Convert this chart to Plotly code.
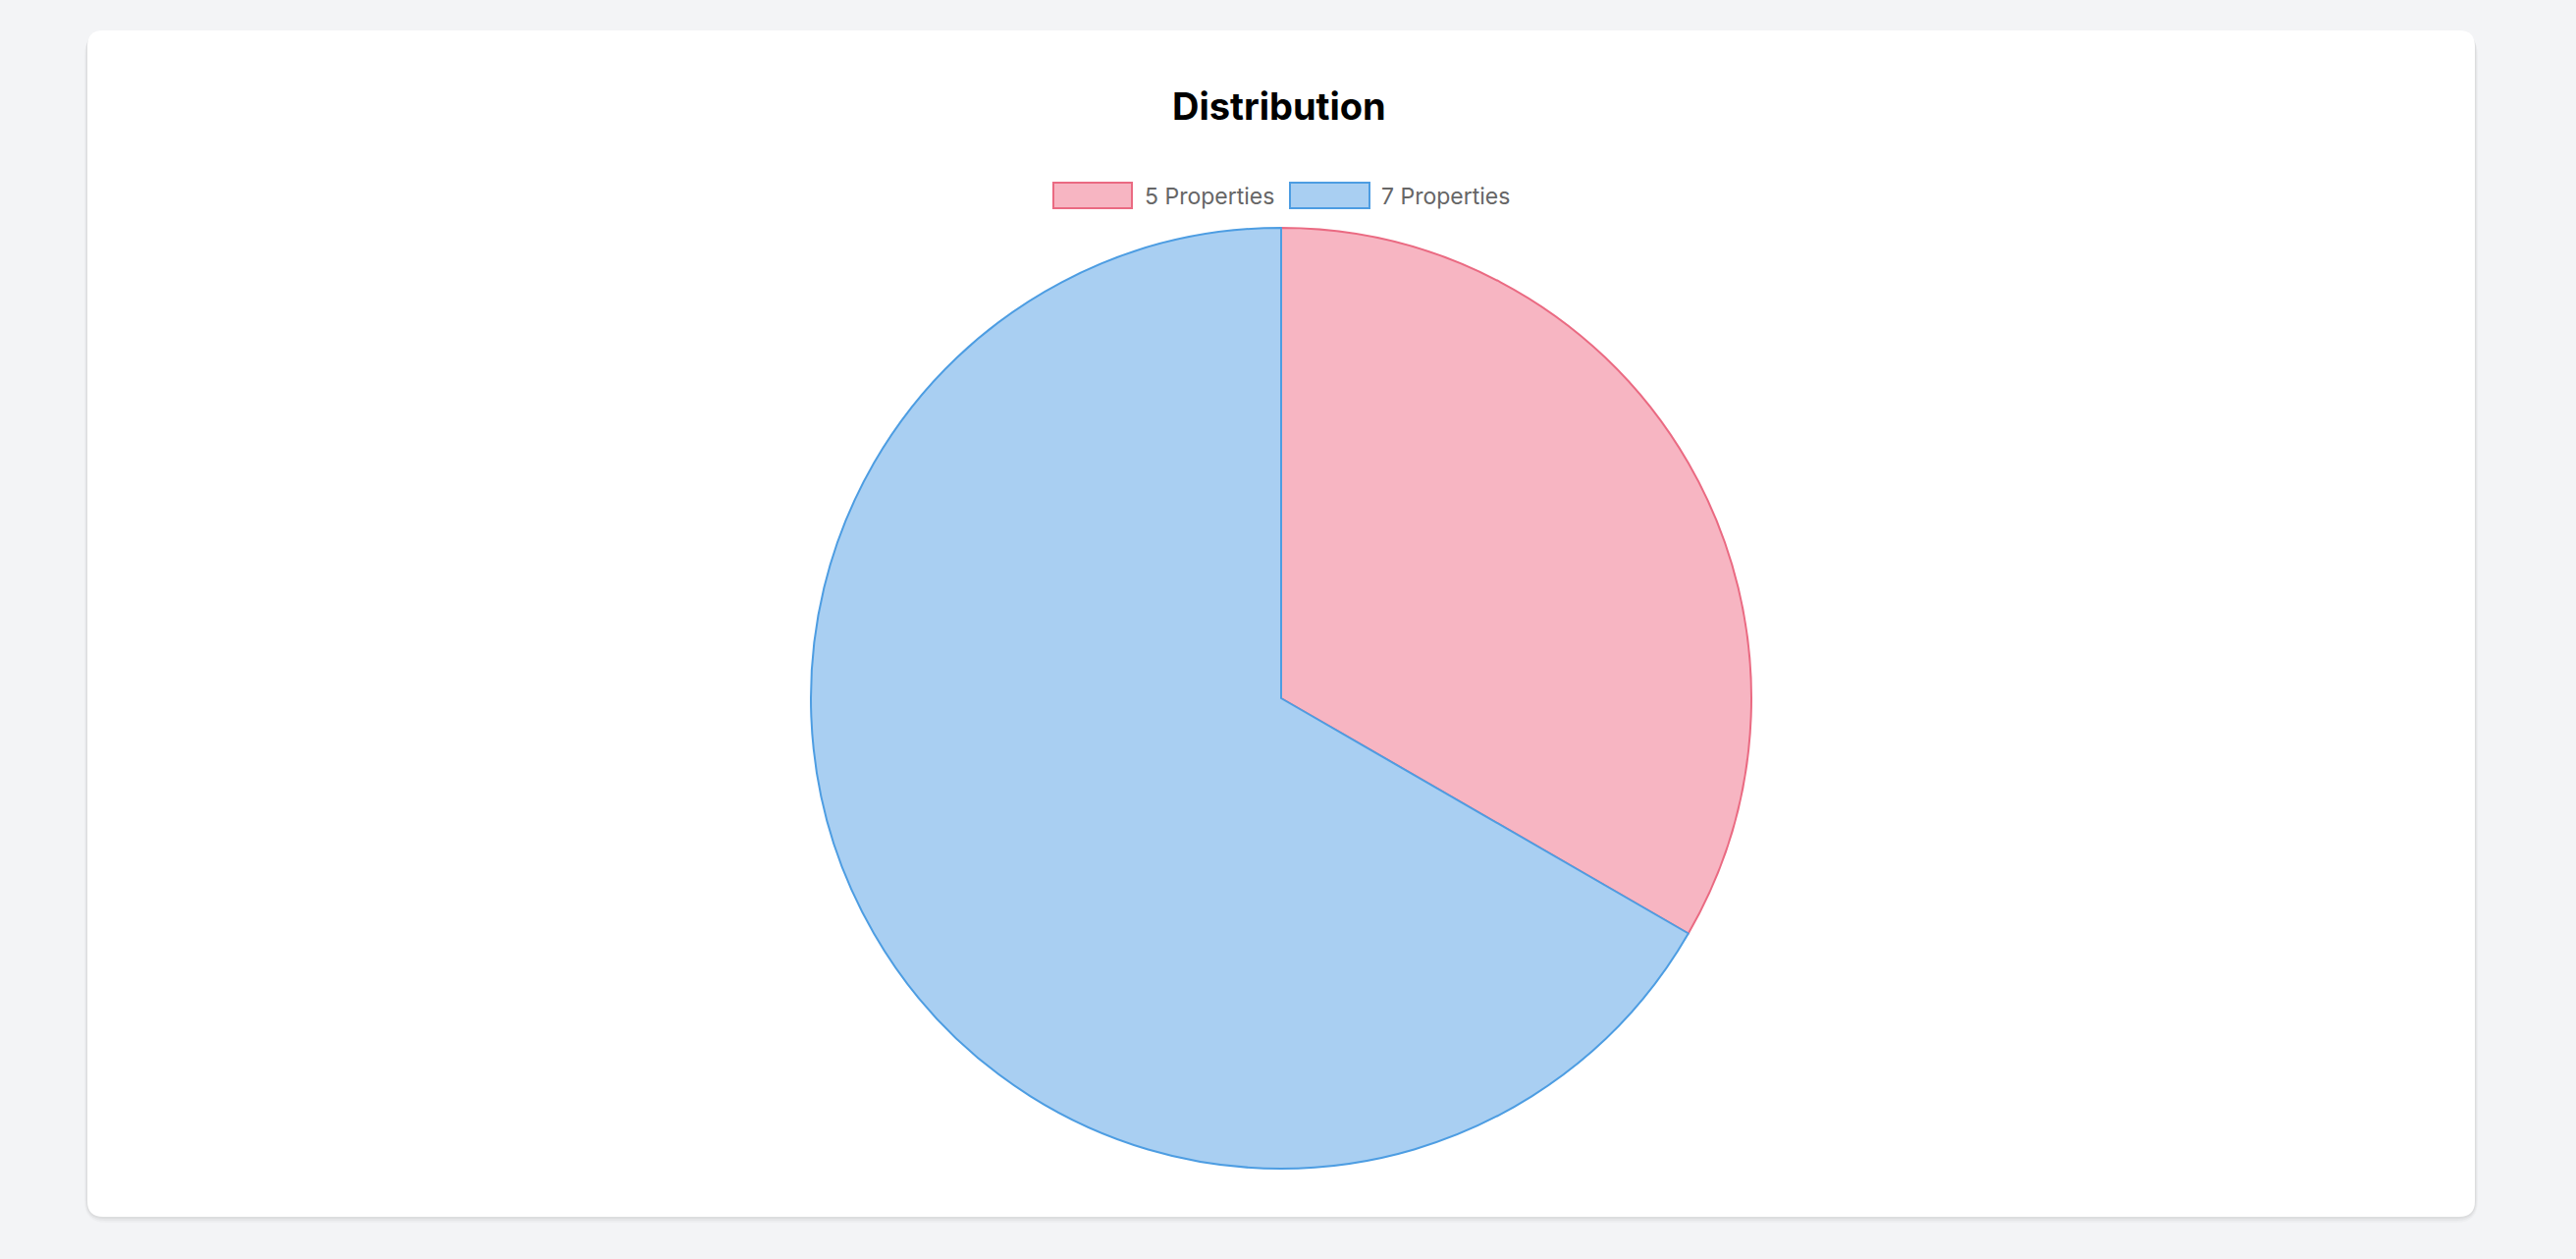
import plotly.graph_objects as go

# ---- data ----
labels = ["5 Properties", "7 Properties"]
values = [1, 2]
fill_colors = ["#F7B5C2", "#A9CFF2"]
border_colors = ["#EA6A82", "#4D9DE2"]
title_text = "Distribution"

W, H = 2624, 1282

def px(x):
    return x / W

def py(y):
    return 1 - y / H

def rounded_rect(x0, y0, x1, y1, r):
    pts = [
        f"M {px(x0 + r)},{py(y0)}",
        f"L {px(x1 - r)},{py(y0)}",
        f"Q {px(x1)},{py(y0)} {px(x1)},{py(y0 + r)}",
        f"L {px(x1)},{py(y1 - r)}",
        f"Q {px(x1)},{py(y1)} {px(x1 - r)},{py(y1)}",
        f"L {px(x0 + r)},{py(y1)}",
        f"Q {px(x0)},{py(y1)} {px(x0)},{py(y1 - r)}",
        f"L {px(x0)},{py(y0 + r)}",
        f"Q {px(x0)},{py(y0)} {px(x0 + r)},{py(y0)}",
        "Z",
    ]
    return " ".join(pts)

# card geometry
cx0, cy0, cx1, cy1, cr = 89, 31, 2521, 1239, 16

shapes = []
for off, alpha in [(6, 0.025), (4, 0.03), (2, 0.04)]:
    shapes.append(dict(
        type="path", xref="paper", yref="paper",
        path=rounded_rect(cx0 - off / 2, cy0 + off / 2, cx1 + off / 2, cy1 + off, cr + off),
        fillcolor=f"rgba(0,0,0,{alpha})", line=dict(width=0), layer="below",
    ))
shapes.append(dict(
    type="path", xref="paper", yref="paper",
    path=rounded_rect(cx0, cy0, cx1, cy1, cr),
    fillcolor="#ffffff", line=dict(width=0), layer="below",
))

# pie geometry
pcx, pcy, pr = 1305, 711, 479

fig = go.Figure(go.Pie(
    labels=labels,
    values=values,
    sort=False,
    direction="clockwise",
    rotation=0,
    marker=dict(colors=fill_colors, line=dict(color=border_colors, width=2)),
    textinfo="none",
    hoverinfo="label+value",
    showlegend=False,
    domain=dict(x=[px(pcx - pr), px(pcx + pr)], y=[py(pcy + pr), py(pcy - pr)]),
))

# custom legend (Chart.js-style boxes)
annotations = []
legend_boxes = [(1073, 1153), (1314, 1395)]
legend_text_x = [1164, 1405]
ly0, ly1 = 186, 212
for i, lab in enumerate(labels):
    bx0, bx1 = legend_boxes[i]
    shapes.append(dict(
        type="rect", xref="paper", yref="paper",
        x0=px(bx0), x1=px(bx1), y0=py(ly1), y1=py(ly0),
        fillcolor=fill_colors[i], line=dict(color=border_colors[i], width=2),
    ))
    annotations.append(dict(
        x=px(legend_text_x[i]), y=py(200), xref="paper", yref="paper",
        xanchor="left", yanchor="middle", showarrow=False, text=lab,
        font=dict(family="Inter, Liberation Sans, sans-serif", size=23, color="#666666"),
    ))

annotations.append(dict(
    x=px(1303), y=py(108), xref="paper", yref="paper",
    xanchor="center", yanchor="middle", showarrow=False,
    text=f"<b>{title_text}</b>",
    font=dict(family="Inter, Liberation Sans, sans-serif", size=38, color="#000000"),
))

fig.update_layout(
    width=W, height=H,
    margin=dict(l=0, r=0, t=0, b=0),
    paper_bgcolor="#f3f4f6",
    plot_bgcolor="#f3f4f6",
    shapes=shapes,
    annotations=annotations,
)

fig.write_html("out.html", config={"displayModeBar": False})
